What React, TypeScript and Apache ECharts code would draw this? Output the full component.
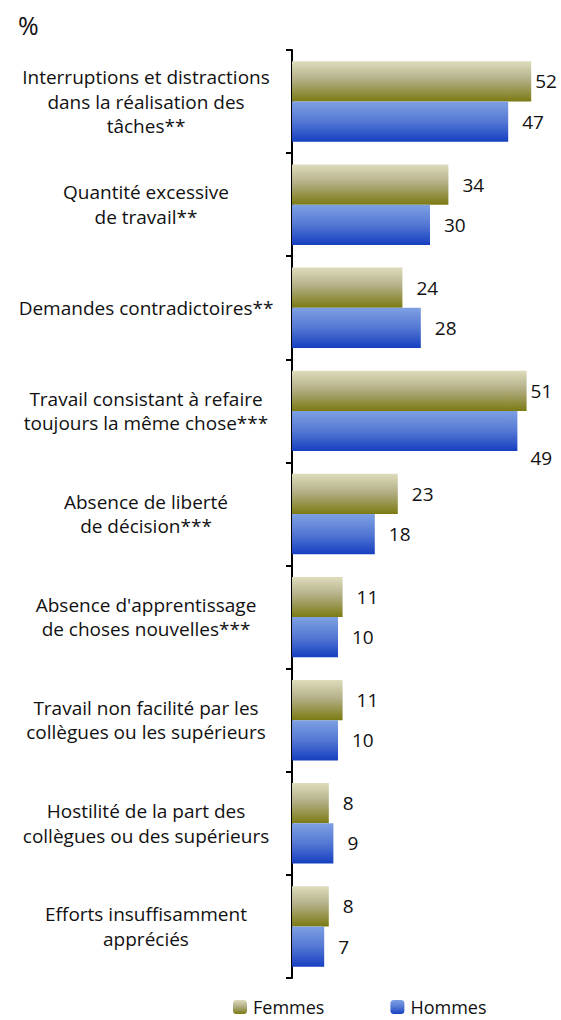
import React, { useEffect, useRef } from "react";
import * as echarts from "echarts";

const categories = [
  "Interruptions et distractions\ndans la réalisation des\ntâches**",
  "Quantité excessive\nde travail**",
  "Demandes contradictoires**",
  "Travail consistant à refaire\ntoujours la même chose***",
  "Absence de liberté\nde décision***",
  "Absence d'apprentissage\nde choses nouvelles***",
  "Travail non facilité par les\ncollègues ou les supérieurs",
  "Hostilité de la part des\ncollègues ou des supérieurs",
  "Efforts insuffisamment\nappréciés",
];
const femmes = [52, 34, 24, 51, 23, 11, 11, 8, 8];
const hommes = [47, 30, 28, 49, 18, 10, 10, 9, 7];

const FONT = "'Open Sans', 'Liberation Sans', Arial, sans-serif";

export default function App() {
  const ref = useRef<HTMLDivElement>(null);
  useEffect(() => {
    if (!ref.current) return;
    const chart = echarts.init(ref.current, null, { renderer: "svg" });
    const femGrad = new echarts.graphic.LinearGradient(0, 0, 0, 1, [
      { offset: 0, color: "#dedcbc" },
      { offset: 0.45, color: "#b3b088" },
      { offset: 1, color: "#7c7a12" },
    ]);
    const homGrad = new echarts.graphic.LinearGradient(0, 0, 0, 1, [
      { offset: 0, color: "#7ea0e2" },
      { offset: 0.5, color: "#5478d4" },
      { offset: 1, color: "#163fc0" },
    ]);
    const femData = femmes.map((v) =>
      v >= 50 ? { value: v, label: { distance: 4 } } : { value: v }
    );
    const homData = hommes.map((v) =>
      v >= 48 ? { value: v, label: { distance: 13, offset: [0, 27] } } : { value: v }
    );
    chart.setOption({
      animation: false,
      textStyle: { fontFamily: FONT },
      graphic: [
        {
          type: "text",
          left: 18,
          top: 12,
          style: { text: "%", fontSize: 25, fontFamily: FONT, fill: "#111" },
        },
      ],
      legend: {
        top: 993,
        left: 228,
        itemWidth: 14,
        itemHeight: 14,
        itemGap: 66,
        textStyle: { fontSize: 18, color: "#111", fontFamily: FONT, padding: [0, 0, 0, 1] },
        data: ["Femmes", "Hommes"],
      },
      grid: { left: 292, right: 16, top: 50, bottom: 42 },
      xAxis: { type: "value", min: 0, max: 55, show: false },
      yAxis: {
        type: "category",
        inverse: true,
        data: categories,
        axisLine: { show: true, lineStyle: { color: "#000", width: 2 } },
        axisTick: { show: true, length: 6, lineStyle: { color: "#000", width: 2 } },
        axisLabel: {
          align: "center",
          margin: 146,
          fontSize: 19,
          lineHeight: 24.5,
          color: "#111",
          fontFamily: FONT,
        },
      },
      series: [
        {
          name: "Femmes",
          type: "bar",
          data: femData,
          barGap: "0%",
          barCategoryGap: "22%",
          itemStyle: { color: femGrad },
          label: {
            show: true,
            position: "right",
            distance: 14,
            fontSize: 19,
            color: "#111",
            fontFamily: FONT,
          },
        },
        {
          name: "Hommes",
          type: "bar",
          data: homData,
          barGap: "0%",
          barCategoryGap: "22%",
          itemStyle: { color: homGrad },
          label: {
            show: true,
            position: "right",
            distance: 14,
            fontSize: 19,
            color: "#111",
            fontFamily: FONT,
          },
        },
      ],
    });
    return () => chart.dispose();
  }, []);
  return (
    <div
      ref={ref}
      style={{ position: "absolute", left: 0, top: 0, width: 561, height: 1020 }}
    />
  );
}
